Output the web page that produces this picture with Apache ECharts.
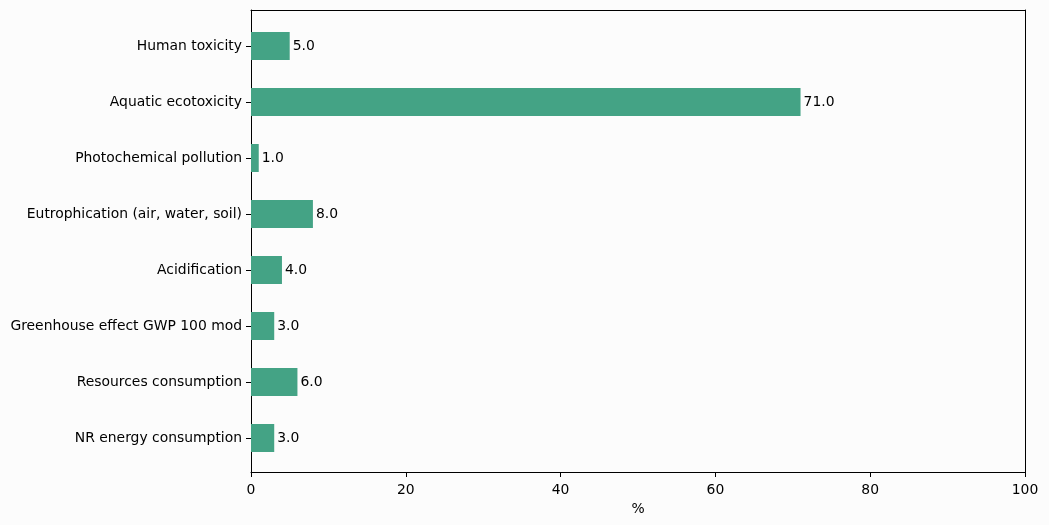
<!DOCTYPE html>
<html><head><meta charset="utf-8">
<script src="https://cdn.jsdelivr.net/npm/echarts@6/dist/echarts.min.js"></script>
<style>html,body{margin:0;padding:0;background:#fcfcfc;}#c{width:1049px;height:525px;}</style>
</head><body><div id="c"></div>
<script>
const categories = ["NR energy consumption","Resources consumption","Greenhouse effect GWP 100 mod","Acidification","Eutrophication (air, water, soil)","Photochemical pollution","Aquatic ecotoxicity","Human toxicity"];
const values = [3,6,3,4,8,1,71,5];
const xTicks = [0,20,40,60,80,100];
const F = 'DejaVu Sans';
const frameAxis = (extra) => Object.assign({gridIndex:0,type:'value',min:0,max:1,
  axisLine:{show:true,onZero:false,lineStyle:{color:'#000',width:1}},axisTick:{show:false},axisLabel:{show:false},splitLine:{show:false}}, extra);
const chart = echarts.init(document.getElementById('c'));
chart.setOption({
  backgroundColor:'#fcfcfc',
  animation:false,
  grid:[
    {left:251,top:10,width:774,height:462},
    {left:251,top:18,width:774,height:448}
  ],
  xAxis:[
    {gridIndex:0,type:'value',min:0,max:100,interval:20,name:'%',nameLocation:'middle',nameGap:29,
    nameTextStyle:{fontFamily:F,fontSize:13.9,color:'#000'},
    axisLine:{show:true,onZero:false,lineStyle:{color:'#000',width:1}},
    axisTick:{show:true,length:5,lineStyle:{color:'#000'}},
    axisLabel:{fontFamily:F,fontSize:13.9,color:'#000',margin:11,formatter:v=>xTicks.includes(v)?String(v):''},
    splitLine:{show:false}},
    {gridIndex:1,type:'value',min:0,max:100,show:false,splitLine:{show:false}},
    frameAxis({position:'top'})
  ],
  yAxis:[
    frameAxis({position:'left'}),
    {gridIndex:1,type:'category',data:categories,
    axisLine:{show:false},
    axisTick:{show:true,length:5,alignWithLabel:true,lineStyle:{color:'#000'}},
    axisLabel:{fontFamily:F,fontSize:13.9,color:'#000',margin:9}},
    frameAxis({position:'right'})
  ],
  series:[{type:'bar',xAxisIndex:1,yAxisIndex:1,data:values,barWidth:'50%',itemStyle:{color:'#44a385'},
    label:{show:true,position:'right',distance:3,fontFamily:F,fontSize:13.9,color:'#000',formatter:p=>p.value.toFixed(1)}}]
});
</script></body></html>
